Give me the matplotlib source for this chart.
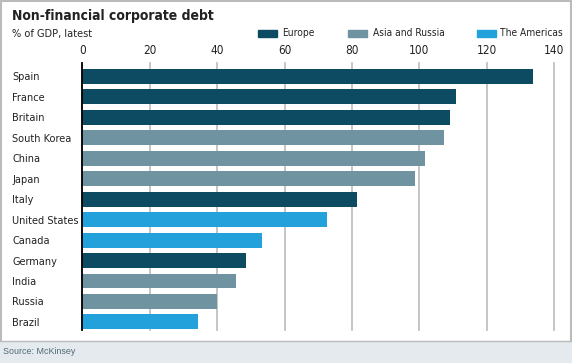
import matplotlib.pyplot as plt
from matplotlib.patches import Rectangle

# Data
countries = ['Spain', 'France', 'Britain', 'South Korea', 'China', 'Japan', 'Italy',
             'United States', 'Canada', 'Germany', 'India', 'Russia', 'Brazil']
debt = [133.8, 110.8, 109.1, 107.3, 101.6, 98.7, 81.6, 72.5, 53.2, 48.6, 45.6, 40.0, 34.2]
region = ['Europe', 'Europe', 'Europe', 'Asia and Russia', 'Asia and Russia', 'Asia and Russia',
          'Europe', 'The Americas', 'The Americas', 'Europe', 'Asia and Russia', 'Asia and Russia',
          'The Americas']
xticks = [0, 20, 40, 60, 80, 100, 120, 140]

colors = {'Europe': '#0d4b63', 'Asia and Russia': '#7093a2', 'The Americas': '#23a1da'}
font = ['DejaVu Sans']
plt.rcParams['font.stretch'] = 'condensed'

W, H = 572, 363
fig = plt.figure(figsize=(W / 100, H / 100), dpi=100)
fig.patch.set_facecolor('white')

# axes placement in pixels
left, right, top, bottom = 82.3, 554.3, 63, 329.5
ax = fig.add_axes([left / W, 1 - bottom / H, (right - left) / W, (bottom - top) / H])

y = list(range(len(countries)))
ax.barh(y, debt, height=0.73, color=[colors[r] for r in region], zorder=3)
ax.set_xlim(0, 140)
ax.set_ylim(12.37, -0.66)

ax.set_xticks(xticks)
ax.xaxis.tick_top()
ax.tick_params(axis='x', length=0, pad=4, labelsize=8.5, labelcolor='#222222')
ax.grid(axis='x', color='#bbbbbb', linewidth=1.2, zorder=0, clip_on=False)
ax.set_yticks(y)
ax.set_yticklabels(countries)
ax.tick_params(axis='y', length=0, pad=(left - 12) * 0.72, labelsize=7.8, labelcolor='#222222')
for lab in ax.get_yticklabels():
    lab.set_horizontalalignment('left')
    lab.set_family(font)
    lab.set_stretch('condensed')
for lab in ax.get_xticklabels():
    lab.set_family(font)
    lab.set_stretch('condensed')

for s in ['top', 'right', 'bottom']:
    ax.spines[s].set_visible(False)
ax.spines['left'].set_color('black')
ax.spines['left'].set_linewidth(1.3)
ax.spines['left'].set_zorder(4)

# title and subtitle
fig.text(12 / W, 1 - 16 / H, 'Non-financial corporate debt', fontsize=10, fontweight='bold',
         family=font, stretch='condensed', color='#222222', va='center')
fig.text(12 / W, 1 - 34 / H, '% of GDP, latest', fontsize=7.8, family=font, stretch='condensed',
         color='#222222', va='center')

# legend
legend_items = [('Europe', 258, 282), ('Asia and Russia', 348, 373), ('The Americas', 477, 500)]
for name, px, tx in legend_items:
    fig.patches.append(Rectangle((px / W, 1 - 36.5 / H), 19 / W, 7 / H, transform=fig.transFigure,
                                 color=colors[name]))
    fig.text(tx / W, 1 - 33 / H, name, fontsize=7.3, family=font, stretch='condensed',
             color='#222222', va='center')

# source strip and frame
fig.patches.append(Rectangle((0, 0), 1, 22 / H, transform=fig.transFigure, facecolor='#e4eaed',
                             edgecolor='none'))
fig.add_artist(plt.Line2D([0, 1], [22 / H, 22 / H], transform=fig.transFigure, color='#bbbbbb', lw=1))
fig.add_artist(plt.Line2D([0.5 / W, 0.5 / W], [22 / H, 1], transform=fig.transFigure, color='#bbbbbb', lw=1.5))
fig.add_artist(plt.Line2D([571 / W, 571 / W], [22 / H, 1], transform=fig.transFigure, color='#bbbbbb', lw=1.5))
fig.add_artist(plt.Line2D([0, 1], [1 - 0.5 / H, 1 - 0.5 / H], transform=fig.transFigure, color='#bbbbbb', lw=1.5))
fig.text(3 / W, 11 / H, 'Source: McKinsey', fontsize=6.4, family=['Liberation Sans', 'DejaVu Sans'],
         stretch='normal', color='#4f6b78', va='center')

fig.savefig('out.png', dpi=100)
